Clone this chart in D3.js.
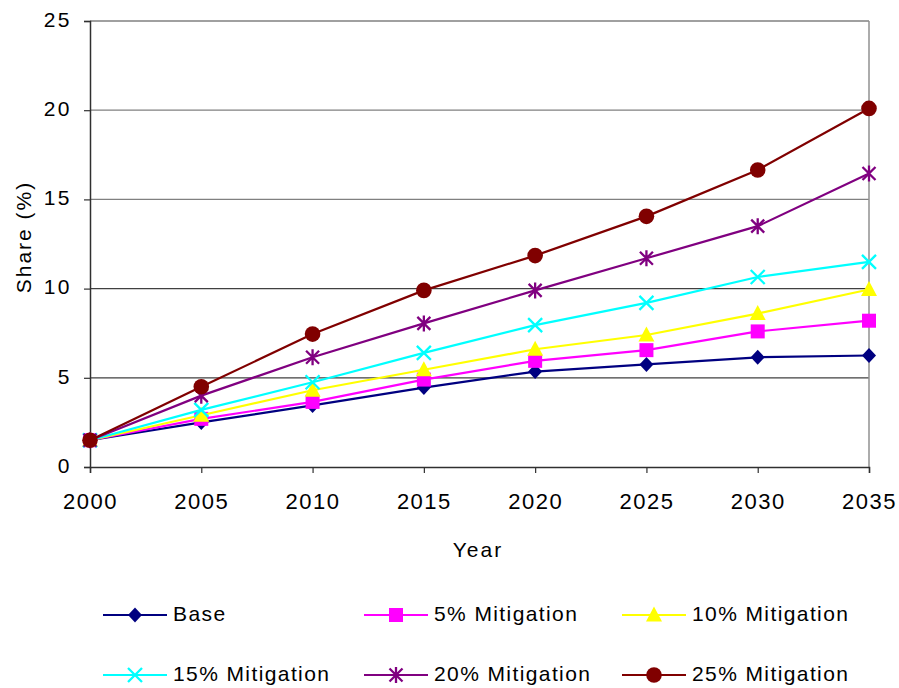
<!DOCTYPE html>
<html>
<head>
<meta charset="utf-8">
<script src="https://cdn.jsdelivr.net/npm/d3@7"></script>
<style>
  html, body { margin: 0; padding: 0; background: #fff; }
  svg text { font-family: "Liberation Sans", Arial, sans-serif; fill: #000; }
</style>
</head>
<body>
<svg id="chart" width="899" height="688"></svg>
<script>
// Years on the horizontal axis
const years = [2000, 2005, 2010, 2015, 2020, 2025, 2030, 2035];
const yTicks = [0, 5, 10, 15, 20, 25];

// Share (%) by scenario
const base = [1.5, 2.5, 3.45, 4.45, 5.35, 5.75, 6.15, 6.25];
const mit5 = [1.5, 2.7, 3.65, 4.9, 5.95, 6.55, 7.6, 8.2];
const mit10 = [1.5, 2.9, 4.3, 5.45, 6.6, 7.4, 8.6, 9.95];
const mit15 = [1.5, 3.2, 4.75, 6.4, 7.95, 9.2, 10.65, 11.5];
const mit20 = [1.5, 4.0, 6.15, 8.05, 9.9, 11.7, 13.5, 16.45];
const mit25 = [1.5, 4.5, 7.45, 9.9, 11.85, 14.05, 16.65, 20.1];

const seriesNames = ["Base", "5% Mitigation", "10% Mitigation", "15% Mitigation", "20% Mitigation", "25% Mitigation"];
const seriesValues = [base, mit5, mit10, mit15, mit20, mit25];
const seriesColors = ["#000080", "#FF00FF", "#FFFF00", "#00FFFF", "#800080", "#800000"];
const seriesMarkers = ["diamond", "square", "triangle", "cross", "star", "circle"];

const svg = d3.select("#chart");
const plotLeft = 90, plotRight = 869, plotTop = 21, plotBottom = 467;

const x = d3.scaleLinear().domain([2000, 2035]).range([plotLeft, plotRight]);
const y = d3.scaleLinear().domain([0, 25]).range([plotBottom, plotTop]);

// Horizontal gridlines
svg.append("g").selectAll("line")
  .data(yTicks.filter(d => d > 0))
  .join("line")
  .attr("x1", plotLeft).attr("x2", plotRight)
  .attr("y1", d => y(d)).attr("y2", d => y(d))
  .attr("stroke", d => d <= 10 ? "#404040" : "#808080")
  .attr("stroke-width", 1.3);

// Right border of the plot area
svg.append("line")
  .attr("x1", plotRight).attr("x2", plotRight).attr("y1", plotTop).attr("y2", plotBottom)
  .attr("stroke", "#909090").attr("stroke-width", 1.5);

// Y axis
const yAxis = svg.append("g")
  .attr("transform", `translate(${plotLeft},0)`)
  .call(d3.axisLeft(y).tickValues(yTicks).tickSize(6).tickPadding(12).tickFormat(d3.format("d")));
yAxis.select(".domain").attr("stroke", "#303030").attr("stroke-width", 1.5);
yAxis.selectAll(".tick line").attr("stroke", "#303030").attr("stroke-width", 1.2);
yAxis.selectAll(".tick text")
  .attr("font-size", 21).attr("letter-spacing", "2.5px")
  .attr("dy", "0.25em")
  .style("font-family", "'Liberation Sans', Arial, sans-serif");

// X axis
const xAxis = svg.append("g")
  .attr("transform", `translate(0,${plotBottom})`)
  .call(d3.axisBottom(x).tickValues(years).tickSize(6).tickPadding(20).tickFormat(d3.format("d")));
xAxis.select(".domain").attr("stroke", "#303030").attr("stroke-width", 1.5);
xAxis.selectAll(".tick line").attr("stroke", "#303030").attr("stroke-width", 1.2);
xAxis.selectAll(".tick text")
  .attr("font-size", 22).attr("letter-spacing", "1.5px")
  .style("font-family", "'Liberation Sans', Arial, sans-serif");

// Axis titles
svg.append("text")
  .attr("x", 478).attr("y", 557)
  .attr("text-anchor", "middle")
  .attr("font-size", 21).attr("letter-spacing", "2px")
  .text("Year");

svg.append("text")
  .attr("transform", "translate(31,237) rotate(-90)")
  .attr("text-anchor", "middle")
  .attr("font-size", 21).attr("letter-spacing", "2px")
  .text("Share (%)");

// Marker shapes
function drawMarker(g, kind, color) {
  if (kind === "diamond") {
    g.append("path").attr("d", "M0,-7.5L7,0L0,7.5L-7,0Z").attr("fill", color);
  } else if (kind === "square") {
    g.append("rect").attr("x", -7).attr("y", -7).attr("width", 14).attr("height", 14).attr("fill", color);
  } else if (kind === "triangle") {
    g.append("path").attr("d", "M0,-8.5L8,6.5L-8,6.5Z").attr("fill", color);
  } else if (kind === "cross") {
    g.append("path").attr("d", "M-7,-7L7,7M-7,7L7,-7")
      .attr("stroke", color).attr("stroke-width", 2.3).attr("fill", "none");
  } else if (kind === "star") {
    g.append("path").attr("d", "M-6.5,-6.5L6.5,6.5M-6.5,6.5L6.5,-6.5M0,-8L0,8")
      .attr("stroke", color).attr("stroke-width", 2.3).attr("fill", "none");
  } else if (kind === "circle") {
    g.append("circle").attr("r", 7.8).attr("fill", color);
  }
}

// Series lines and markers
const line = d3.line().x((d, i) => x(years[i])).y(d => y(d));
seriesValues.forEach((vals, s) => {
  const g = svg.append("g");
  g.append("path")
    .attr("d", line(vals))
    .attr("fill", "none")
    .attr("stroke", seriesColors[s])
    .attr("stroke-width", 2.2);
  vals.forEach((v, i) => {
    const m = g.append("g").attr("transform", `translate(${x(years[i])},${y(v)})`);
    drawMarker(m, seriesMarkers[s], seriesColors[s]);
  });
});

// Legend
const legendCols = [103, 364, 622];
const legendRows = [615, 675];
seriesNames.forEach((name, s) => {
  const lx = legendCols[s % 3];
  const ly = legendRows[Math.floor(s / 3)];
  const g = svg.append("g").attr("transform", `translate(${lx},${ly})`);
  g.append("line").attr("x1", 0).attr("x2", 64).attr("y1", 0).attr("y2", 0)
    .attr("stroke", seriesColors[s]).attr("stroke-width", 2.2);
  const m = g.append("g").attr("transform", "translate(32,0)");
  drawMarker(m, seriesMarkers[s], seriesColors[s]);
  g.append("text")
    .attr("x", 70).attr("y", 6)
    .attr("font-size", 21).attr("letter-spacing", "1.4px")
    .text(name);
});
</script>
</body>
</html>
